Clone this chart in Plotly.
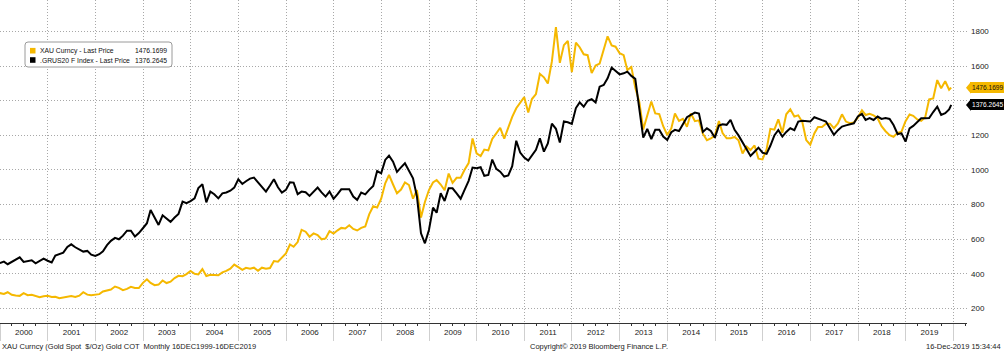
import pandas as pd
import plotly.graph_objects as go

# Monthly dates: month ends Dec-1999 .. Nov-2019, last point 16-Dec-2019
dates = list(pd.date_range("1999-12-31", "2019-11-30", freq="ME")) + [pd.Timestamp("2019-12-16")]

xau_price = [
    288,
    283, 293, 278, 274, 272, 288, 276, 278, 273, 264, 270, 272,
    265, 267, 258, 263, 265, 271, 265, 273, 293, 279, 275, 277,
    282, 297, 302, 309, 326, 318, 305, 312, 324, 317, 317, 347,
    368, 347, 334, 337, 361, 346, 354, 375, 388, 386, 398, 416,
    400, 396, 427, 387, 394, 394, 391, 408, 416, 429, 453, 438,
    422, 434, 429, 435, 417, 435, 429, 433, 473, 470, 495, 517,
    569, 556, 583, 654, 643, 614, 633, 623, 599, 604, 646, 632,
    651, 665, 662, 680, 659, 650, 665, 673, 743, 790, 783, 834,
    923, 971, 916, 865, 887, 928, 913, 834, 884, 725, 815, 884,
    928, 942, 916, 883, 979, 926, 955, 955, 1001, 1040, 1182, 1096,
    1081, 1118, 1113, 1180, 1212, 1244, 1181, 1248, 1307, 1357, 1386, 1421,
    1332, 1410, 1439, 1556, 1536, 1500, 1628, 1826, 1620, 1722, 1746, 1566,
    1737, 1710, 1669, 1664, 1560, 1604, 1615, 1692, 1773, 1720, 1713, 1675,
    1664, 1578, 1596, 1476, 1393, 1234, 1312, 1396, 1327, 1323, 1253, 1202,
    1240, 1326, 1284, 1296, 1250, 1327, 1282, 1287, 1210, 1172, 1182, 1199,
    1283, 1213, 1183, 1184, 1191, 1172, 1095, 1135, 1115, 1142, 1065, 1061,
    1118, 1238, 1233, 1293, 1215, 1322, 1351, 1309, 1316, 1277, 1173, 1146,
    1211, 1249, 1249, 1268, 1268, 1242, 1269, 1322, 1280, 1271, 1275, 1303,
    1345, 1318, 1325, 1316, 1299, 1253, 1224, 1201, 1192, 1215, 1222, 1282,
    1321, 1313, 1292, 1284, 1305, 1409, 1414, 1520, 1472, 1513, 1464, 1476.1699,
]

grus20_index = [
    461,
    470, 455, 470, 480, 495, 468, 472, 478, 460, 475, 487, 475,
    465, 505, 515, 522, 555, 570, 553, 540, 528, 532, 510, 503,
    513, 530, 565, 590, 607, 599, 620, 649, 649, 615, 635, 663,
    692, 769, 720, 682, 738, 720, 700, 725, 746, 817, 808, 820,
    836, 895, 917, 813, 875, 860, 836, 865, 870, 880, 898, 946,
    919, 935, 950, 956, 930, 900, 875, 910, 946, 900, 869, 885,
    929, 927, 860, 875, 871, 850, 875, 898, 870, 846, 875, 833,
    860, 888, 888, 888, 846, 827, 869, 859, 885, 908, 994, 981,
    1058, 1083, 1048, 989, 1015, 1039, 996, 952, 846, 634, 576, 653,
    782, 753, 865, 821, 894, 894, 865, 834, 885, 937, 1014, 1010,
    1016, 966, 971, 1060, 1006, 990, 962, 968, 1022, 1169, 1101, 1072,
    1054, 1085, 1116, 1183, 1106, 1154, 1268, 1238, 1159, 1281, 1276, 1266,
    1358, 1391, 1366, 1400, 1409, 1390, 1482, 1492, 1530, 1592, 1573, 1553,
    1559, 1569, 1544, 1527, 1353, 1187, 1237, 1178, 1232, 1232, 1193, 1174,
    1218, 1232, 1225, 1261, 1305, 1318, 1332, 1326, 1220, 1241, 1226, 1187,
    1257, 1264, 1261, 1290, 1232, 1200, 1160, 1120, 1081, 1105, 1129, 1100,
    1093, 1140, 1200, 1231, 1193, 1220, 1241, 1230, 1280, 1284, 1282, 1280,
    1305, 1295, 1288, 1280, 1240, 1203, 1230, 1251, 1258, 1262, 1270, 1310,
    1324, 1289, 1300, 1289, 1309, 1295, 1300, 1295, 1260, 1208, 1212, 1164,
    1241, 1255, 1280, 1299, 1299, 1300, 1335, 1366, 1318, 1328, 1350, 1376.2645,
]

series_names = ["XAU Curncy - Last Price", ".GRUS20 F Index - Last Price"]
series_colors = ["#F5B800", "#000000"]
last_labels = ["1476.1699", "1376.2645"]
y_ticks = [200, 400, 600, 800, 1000, 1200, 1400, 1600, 1800]

FONT = "Liberation Sans"
W, H = 1004, 352
ML, MR, MT, MB = 0, 37, 0, 29
PW, PH = W - ML - MR, H - MT - MB
GRID_DASH = "1px,2px"
GRID_COL = "#a8a8a8"


def px(xp):
    return xp / PW


def py(yp):
    return (PH - yp) / PH


fig = go.Figure()
fig.add_trace(go.Scatter(x=dates, y=xau_price, mode="lines",
                         line=dict(color=series_colors[0], width=2), name=series_names[0]))
fig.add_trace(go.Scatter(x=dates, y=grus20_index, mode="lines",
                         line=dict(color=series_colors[1], width=2), name=series_names[1]))

fig.update_layout(
    width=W, height=H,
    margin=dict(l=ML, r=MR, t=MT, b=MB),
    paper_bgcolor="white", plot_bgcolor="white",
    showlegend=False,
    font=dict(family=FONT, size=7, color="#222"),
    xaxis=dict(
        type="date",
        range=["2000-01-01", "2020-04-15"],
        dtick="M12", tick0="2000-01-01",
        ticklabelmode="period", tickformat="%Y",
        showgrid=True, gridcolor=GRID_COL, griddash=GRID_DASH, gridwidth=1,
        showline=True, linecolor="#333", linewidth=1,
        ticks="outside", ticklen=17, tickcolor="#cfcfcf", tickwidth=1,
        ticklabelstandoff=-16,
        minor=dict(dtick="M3", ticks="outside", ticklen=2, tickcolor="#333", showgrid=False),
        tickfont=dict(family=FONT, size=8, color="#222"),
        zeroline=False,
    ),
    yaxis=dict(
        side="right",
        range=[115, 1983],
        tickvals=y_ticks,
        showgrid=True, gridcolor=GRID_COL, griddash=GRID_DASH, gridwidth=1,
        showline=False, zeroline=False, ticks="",
        ticklabelstandoff=3,
        tickfont=dict(family=FONT, size=8, color="#222"),
    ),
)

# Legend box (rounded)
lx0, lx1, ly0, ly1, r = px(25), px(172), py(67), py(42), 3
rx, ry = r / PW, r / PH
legend_path = (
    f"M {lx0 + rx} {ly0} L {lx1 - rx} {ly0} Q {lx1} {ly0} {lx1} {ly0 + ry} "
    f"L {lx1} {ly1 - ry} Q {lx1} {ly1} {lx1 - rx} {ly1} "
    f"L {lx0 + rx} {ly1} Q {lx0} {ly1} {lx0} {ly1 - ry} "
    f"L {lx0} {ly0 + ry} Q {lx0} {ly0} {lx0 + rx} {ly0} Z"
)
fig.add_shape(type="path", xref="paper", yref="paper", path=legend_path,
              line=dict(color="#9a9a9a", width=1), fillcolor="white", layer="above")
for i, (name, col, val, yy) in enumerate(zip(series_names, series_colors, last_labels, [50.7, 60])):
    fig.add_shape(type="rect", xref="paper", yref="paper",
                  x0=px(30), x1=px(35.5), y0=py(yy + 2.8), y1=py(yy - 2.8),
                  line=dict(width=0), fillcolor=col, layer="above")
    fig.add_annotation(xref="paper", yref="paper", x=px(37.5), y=py(yy), text=name,
                       showarrow=False, xanchor="left", yanchor="middle",
                       font=dict(family=FONT, size=6.8, color="#111"))
    fig.add_annotation(xref="paper", yref="paper", x=px(169), y=py(yy), text=val,
                       showarrow=False, xanchor="right", yanchor="middle",
                       font=dict(family=FONT, size=6.8, color="#111"))

# Last-value tags on the right axis
tag_values = [xau_price[-1], grus20_index[-1]]
tag_font_cols = ["#111", "#fff"]
for v, col, fc, lab in zip(tag_values, series_colors, tag_font_cols, last_labels):
    fig.add_annotation(xref="paper", yref="y", x=px(970), y=v, text=lab,
                       showarrow=False, xanchor="left", yanchor="middle",
                       bgcolor=col, bordercolor=col, borderpad=1,
                       font=dict(family=FONT, size=6.6, color=fc))
    fig.add_shape(type="path", xref="paper", yref="y",
                  path=f"M {px(966)} {v} L {px(971)} {v + 6 * 5.783} L {px(971)} {v - 6 * 5.783} Z",
                  fillcolor=col, line=dict(width=0), layer="above")

# Footer
foot_y = py(346)
fig.add_annotation(xref="paper", yref="paper", x=0, y=foot_y,
                   text="XAU Curncy (Gold Spot  $/Oz) Gold COT  Monthly 16DEC1999-16DEC2019",
                   showarrow=False, xanchor="left", yanchor="middle",
                   font=dict(family=FONT, size=7.5, color="#222"))
fig.add_annotation(xref="paper", yref="paper", x=px(599), y=foot_y,
                   text="Copyright\u00a9 2019 Bloomberg Finance L.P.",
                   showarrow=False, xanchor="center", yanchor="middle",
                   font=dict(family=FONT, size=7.5, color="#222"))
fig.add_annotation(xref="paper", yref="paper", x=px(1003), y=foot_y,
                   text="16-Dec-2019 15:34:44",
                   showarrow=False, xanchor="right", yanchor="middle",
                   font=dict(family=FONT, size=7.5, color="#222"))

fig.write_html("out.html")
